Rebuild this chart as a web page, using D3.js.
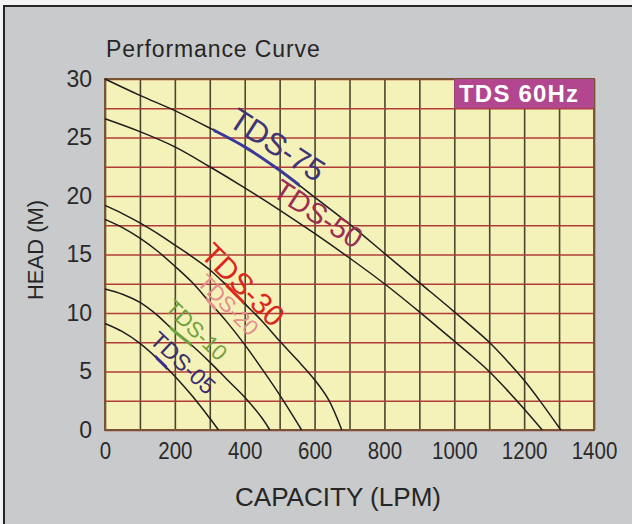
<!DOCTYPE html>
<html>
<head>
<meta charset="utf-8">
<script src="https://cdn.jsdelivr.net/npm/d3@7"></script>
<style>
  html, body { margin: 0; padding: 0; background: #ffffff; }
  svg { display: block; }
</style>
</head>
<body>
<svg id="chart" width="632" height="524"></svg>
<script>
// ---------------- DATA ----------------
const seriesNames = ["TDS-75", "TDS-50", "TDS-30", "TDS-20", "TDS-10", "TDS-05"];

const flowTDS75 = [0, 100, 200, 300, 400, 500, 600, 700, 800, 900, 1000, 1100, 1150, 1200, 1250, 1305];
const headTDS75 = [30, 28.6, 27.3, 25.8, 24.2, 22.2, 19.9, 17.6, 15.1, 12.6, 10.1, 7.5, 5.95, 4.25, 2.3, 0];

const flowTDS50 = [0, 100, 200, 300, 400, 500, 600, 700, 800, 900, 1000, 1050, 1100, 1150, 1200, 1252];
const headTDS50 = [26.6, 25.5, 24.2, 22.5, 20.7, 18.8, 16.8, 14.7, 12.5, 10.1, 7.6, 6.35, 5.0, 3.45, 1.8, 0];

const flowTDS30 = [0, 50, 100, 150, 200, 250, 300, 350, 400, 450, 500, 550, 600, 640, 678];
const headTDS30 = [19.2, 18.5, 17.7, 16.8, 15.8, 14.8, 13.7, 12.3, 10.8, 9.3, 7.6, 6.0, 4.3, 2.6, 0];

const flowTDS20 = [0, 50, 100, 150, 200, 250, 300, 350, 400, 450, 500, 563];
const headTDS20 = [18.0, 17.3, 16.4, 15.3, 14.0, 12.6, 10.9, 9.2, 7.3, 5.2, 3.0, 0];

const flowTDS10 = [0, 50, 100, 150, 200, 250, 300, 350, 400, 450, 472];
const headTDS10 = [12.05, 11.6, 10.9, 9.8, 8.4, 7.2, 5.8, 4.3, 2.8, 1.0, 0];

const flowTDS05 = [0, 50, 100, 150, 200, 250, 300, 325];
const headTDS05 = [9.1, 8.4, 7.4, 6.1, 4.6, 2.9, 1.0, 0];

// recommended operating range (highlight segment) [from, to] in LPM
const rangeStart = [310, null, 345, 290, 185, 145];
const rangeEnd   = [558, null, 398, 318, 248, 178];

// label anchor (capacity, head), angle (deg), font size
const labelFlow  = [494, 611, 396, 353, 262, 224];
const labelHead  = [24.4, 18.5, 12.45, 10.7, 8.55, 5.75];
const labelAngle = [33, 33, 45, 45, 44, 43];
const labelSize  = [31, 29, 30, 22, 22, 23];
const labelColor = ["#3d3575", "#9a2f52", "#d9281e", "#e58c8c", "#6fa23e", "#3b2d6e"];
const rangeColor = ["#3a3a98", null, "#d9281e", "#e58c8c", "#6fa23e", "#3b2d8e"];

const xTickValues = [0, 200, 400, 600, 800, 1000, 1200, 1400];
const yTickValues = [0, 5, 10, 15, 20, 25, 30];
const xGridValues = d3.range(0, 1401, 100);
const yGridValues = d3.range(0, 30.01, 2.5);

const titleText = "Performance Curve";
const xTitle = "CAPACITY (LPM)";
const yTitle = "HEAD (M)";
const badgeText = "TDS 60Hz";

// ---------------- LAYOUT ----------------
const svg = d3.select("#chart");
const plot = { left: 105, right: 594, top: 79, bottom: 430 };

const x = d3.scaleLinear().domain([0, 1400]).range([plot.left, plot.right]);
const y = d3.scaleLinear().domain([0, 30]).range([plot.bottom, plot.top]);

// page background + frame
svg.append("rect").attr("x", 0).attr("y", 0).attr("width", 632).attr("height", 524).attr("fill", "#f4f4f4");
svg.append("rect").attr("x", 4).attr("y", 6).attr("width", 660).attr("height", 540)
  .attr("fill", "#c9cacc").attr("stroke", "#262626").attr("stroke-width", 2);

// plot background
svg.append("rect")
  .attr("x", x(0)).attr("y", y(30))
  .attr("width", x(1400) - x(0)).attr("height", y(0) - y(30))
  .attr("fill", "#f5f2b9");

// vertical grid
const gx = svg.append("g")
  .attr("transform", `translate(0,${plot.bottom})`)
  .call(d3.axisBottom(x).tickValues(xGridValues).tickSize(-(plot.bottom - plot.top)).tickFormat(""));
gx.select(".domain").remove();
gx.selectAll("line").attr("stroke", "#4b4632").attr("stroke-width", 1.6);

// horizontal grid
const gy = svg.append("g")
  .attr("transform", `translate(${plot.left},0)`)
  .call(d3.axisLeft(y).tickValues(yGridValues).tickSize(-(plot.right - plot.left)).tickFormat(""));
gy.select(".domain").remove();
gy.selectAll("line").attr("stroke", "#b03c3a").attr("stroke-width", 1.6);

// plot border
svg.append("rect")
  .attr("x", x(0)).attr("y", y(30))
  .attr("width", x(1400) - x(0)).attr("height", y(0) - y(30))
  .attr("fill", "none").attr("stroke", "#7a5236").attr("stroke-width", 2);

// badge
const bx0 = x(1000), bx1 = x(1400), by0 = y(30), by1 = y(27.5);
svg.append("rect").attr("x", bx0).attr("y", by0).attr("width", bx1 - bx0).attr("height", by1 - by0)
  .attr("fill", "#b2468f");
svg.append("text").attr("x", (bx0 + bx1) / 2 - 5).attr("y", by1 - 6)
  .attr("text-anchor", "middle").attr("fill", "#ffffff")
  .attr("font-family", "'Liberation Sans', Arial, sans-serif").attr("font-weight", "bold")
  .attr("letter-spacing", 1.2)
  .attr("font-size", 24).text(badgeText);

// curves
const flows = [flowTDS75, flowTDS50, flowTDS30, flowTDS20, flowTDS10, flowTDS05];
const heads = [headTDS75, headTDS50, headTDS30, headTDS20, headTDS10, headTDS05];
const series = seriesNames.map((name, i) => ({
  name, i,
  pts: flows[i].map((q, k) => ({ q, h: heads[i][k] }))
}));

const line = d3.line().x(d => x(d.q)).y(d => y(d.h)).curve(d3.curveCatmullRom.alpha(0.5));

const defs = svg.append("defs");
series.forEach(s => {
  if (rangeStart[s.i] == null) return;
  defs.append("clipPath").attr("id", "clip" + s.i)
    .append("rect")
    .attr("x", x(rangeStart[s.i])).attr("y", 0)
    .attr("width", x(rangeEnd[s.i]) - x(rangeStart[s.i])).attr("height", 524);
});

svg.append("g").selectAll("path.curve").data(series).join("path")
  .attr("class", "curve")
  .attr("d", d => line(d.pts))
  .attr("fill", "none").attr("stroke", "#1e1e1e").attr("stroke-width", 1.5);

// highlighted ranges
svg.append("g").selectAll("path.range").data(series.filter(s => rangeStart[s.i] != null)).join("path")
  .attr("class", "range")
  .attr("d", d => line(d.pts))
  .attr("clip-path", d => `url(#clip${d.i})`)
  .attr("fill", "none").attr("stroke", d => rangeColor[d.i]).attr("stroke-width", 3);

// labels
svg.append("g").selectAll("text.lbl").data(series).join("text")
  .attr("class", "lbl")
  .attr("transform", d => `translate(${x(labelFlow[d.i])},${y(labelHead[d.i])}) rotate(${labelAngle[d.i]})`)
  .attr("text-anchor", "middle").attr("dy", "0.36em")
  .attr("font-family", "'Liberation Sans', Arial, sans-serif")
  .attr("font-size", d => labelSize[d.i])
  .attr("fill", d => labelColor[d.i])
  .text(d => d.name);

// axes labels
const xAxis = svg.append("g")
  .attr("transform", `translate(0,${plot.bottom})`)
  .call(d3.axisBottom(x).tickValues(xTickValues).tickSize(0).tickPadding(12).tickFormat(d3.format("d")));
xAxis.select(".domain").remove();
xAxis.selectAll("text")
  .attr("font-family", "'Liberation Sans', Arial, sans-serif")
  .attr("font-size", 24).attr("fill", "#2a2a2a")
  .attr("textLength", d => String(d).length * 11.4)
  .attr("lengthAdjust", "spacingAndGlyphs");

const yAxis = svg.append("g")
  .attr("transform", `translate(${plot.left},0)`)
  .call(d3.axisLeft(y).tickValues(yTickValues).tickSize(0).tickPadding(13).tickFormat(d3.format("d")));
yAxis.select(".domain").remove();
yAxis.selectAll("text")
  .attr("font-family", "'Liberation Sans', Arial, sans-serif")
  .attr("font-size", 23).attr("fill", "#2a2a2a");

// titles
svg.append("text").attr("x", 106).attr("y", 57)
  .attr("font-family", "'Liberation Sans', Arial, sans-serif")
  .attr("letter-spacing", 0.9)
  .attr("font-size", 23).attr("fill", "#262626").text(titleText);

svg.append("text").attr("x", 338).attr("y", 506)
  .attr("text-anchor", "middle")
  .attr("font-family", "'Liberation Sans', Arial, sans-serif")
  .attr("font-size", 25).attr("fill", "#262626")
  .attr("textLength", 206).attr("lengthAdjust", "spacingAndGlyphs")
  .text(xTitle);

svg.append("text").attr("transform", `translate(43,250) rotate(-90)`)
  .attr("text-anchor", "middle")
  .attr("font-family", "'Liberation Sans', Arial, sans-serif")
  .attr("font-size", 22).attr("fill", "#262626").text(yTitle);
</script>
</body>
</html>
